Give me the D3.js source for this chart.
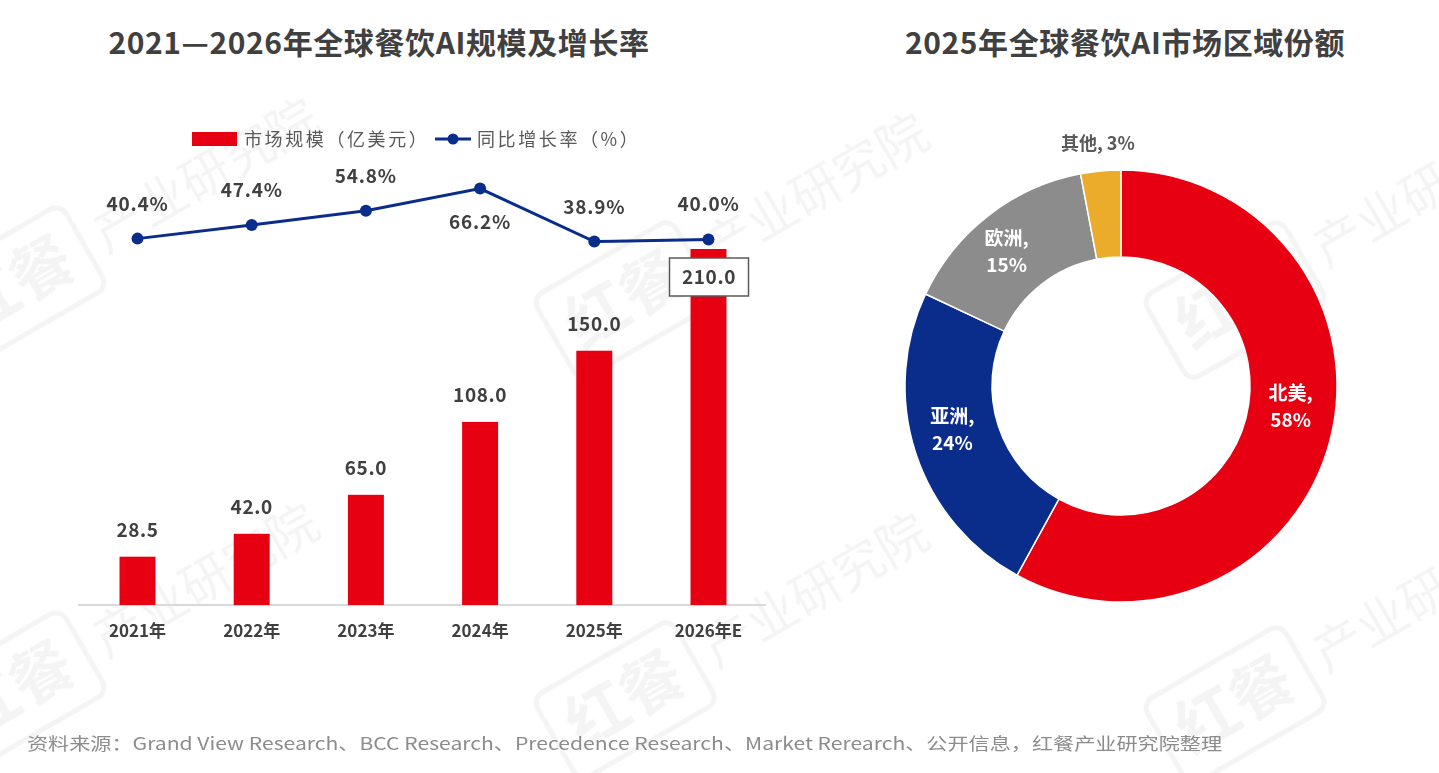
<!DOCTYPE html>
<html>
<head>
<meta charset="utf-8">
<script src="https://cdn.jsdelivr.net/npm/d3@7"></script>
<style>
  body { margin: 0; background: #fff; }
  svg { display: block; font-family: "Noto Sans CJK SC", "Noto Sans", sans-serif; }
</style>
</head>
<body>
<svg id="chart" width="1439" height="773"></svg>
<script>
// data
const years = ['2021年', '2022年', '2023年', '2024年', '2025年', '2026年E']
const marketSize = [28.5, 42.0, 65.0, 108.0, 150.0, 210.0]   // 亿美元
const growthRate = [40.4, 47.4, 54.8, 66.2, 38.9, 40.0]      // %
const rateBelow = [false, false, false, true, false, false]   // 66.2% sits under its dot
const regions = ['北美', '亚洲', '欧洲', '其他']
const regionShare = [58, 24, 15, 3]
const regionColors = ['#e60012', '#0a2d8c', '#8c8c8c', '#ebab2b']

const titleLeft = '2021—2026年全球餐饮AI规模及增长率'
const titleRight = '2025年全球餐饮AI市场区域份额'
const sourceNote = '资料来源：Grand View Research、BCC Research、Precedence Research、Market Rerearch、公开信息，红餐产业研究院整理'

const red = '#e60012'
const navy = '#0a2d8c'
const textDark = '#404040'

let svg = d3.select('#chart')

// faint watermarks behind everything
let marks = [[15, 285], [625, 300], [1235, 300], [15, 690], [625, 700], [1235, 705]]
let wm = svg.append('g').attr('opacity', 0.045)
marks.forEach(m => {
    let g = wm.append('g').attr('transform', `translate(${m[0]},${m[1]}) rotate(-30)`)
    g.append('rect')
        .attr('x', -80).attr('y', -48).attr('width', 160).attr('height', 96)
        .attr('rx', 12).attr('fill', 'none').attr('stroke', '#000').attr('stroke-width', 5)
    g.append('text').attr('x', 0).attr('y', 22).attr('text-anchor', 'middle')
        .style('font-size', '62px').style('font-weight', 'bold').attr('fill', '#000').text('红餐')
    g.append('text').attr('x', 95).attr('y', 18)
        .style('font-size', '50px').attr('fill', '#000').text('产业研究院')
})

// titles
svg.append('text').attr('x', 379).attr('y', 54).attr('text-anchor', 'middle')
    .style('font-size', '30px').style('font-weight', 'bold').style('letter-spacing', '0.6px')
    .attr('fill', textDark)
    .text(titleLeft)
svg.append('text').attr('x', 1125).attr('y', 54).attr('text-anchor', 'middle')
    .style('font-size', '30px').style('font-weight', 'bold').style('letter-spacing', '0.6px')
    .attr('fill', textDark)
    .text(titleRight)

// ---------- left: bars + growth line ----------
let x = d3.scaleBand().domain(years).range([80, 766]).paddingInner(0.685).paddingOuter(0.346)
let yBar = d3.scaleLinear().domain([0, 210]).range([605, 249])
let yRate = d3.scaleLinear().domain([0, 100]).range([317, 123])
let cx = d => x(d) + x.bandwidth() / 2

// x axis: just the baseline and labels
let xAxis = svg.append('g').attr('transform', 'translate(0,605)')
    .call(d3.axisBottom(x).tickSize(0).tickPadding(20))
xAxis.select('.domain').attr('d', 'M78,0H766').attr('stroke', '#d9d9d9').attr('stroke-width', 2)
xAxis.selectAll('text')
    .style('font-size', '17px').style('font-weight', 'bold')
    .style('font-family', '"Noto Sans CJK SC", sans-serif')
    .attr('fill', textDark)

svg.append('g').selectAll('rect')
    .data(marketSize)
    .enter()
    .append('rect')
    .attr('x', (d, i) => x(years[i]))
    .attr('y', d => yBar(d))
    .attr('width', x.bandwidth())
    .attr('height', d => yBar(0) - yBar(d))
    .attr('fill', red)

// bar value labels, the last one is boxed inside the bar
let last = marketSize.length - 1
svg.append('g').selectAll('text')
    .data(marketSize.slice(0, last))
    .enter()
    .append('text')
    .attr('x', (d, i) => cx(years[i]))
    .attr('y', d => yBar(d) - 20)
    .attr('text-anchor', 'middle')
    .style('font-size', '19px').style('font-weight', 'bold').style('letter-spacing', '0.6px')
    .attr('fill', textDark)
    .text(d => d.toFixed(1))

let boxX = cx(years[last])
let boxY = yBar(marketSize[last]) + 28
svg.append('rect').attr('x', boxX - 39).attr('y', boxY - 19).attr('width', 79).attr('height', 38)
    .attr('fill', '#fff').attr('stroke', '#595959').attr('stroke-width', 1.5)
svg.append('text').attr('x', boxX + 0.5).attr('y', boxY + 7).attr('text-anchor', 'middle')
    .style('font-size', '19px').style('font-weight', 'bold').style('letter-spacing', '0.6px')
    .attr('fill', textDark).text(marketSize[last].toFixed(1))

// growth line
let line = d3.line().x((d, i) => cx(years[i])).y(d => yRate(d))
svg.append('path').datum(growthRate)
    .attr('d', line).attr('fill', 'none').attr('stroke', navy).attr('stroke-width', 3)
svg.append('g').selectAll('circle')
    .data(growthRate)
    .enter()
    .append('circle')
    .attr('cx', (d, i) => cx(years[i]))
    .attr('cy', d => yRate(d))
    .attr('r', 6)
    .attr('fill', navy)
svg.append('g').selectAll('text')
    .data(growthRate)
    .enter()
    .append('text')
    .attr('x', (d, i) => cx(years[i]))
    .attr('y', (d, i) => rateBelow[i] ? yRate(d) + 40 : yRate(d) - 28)
    .attr('text-anchor', 'middle')
    .style('font-size', '19px').style('font-weight', 'bold').style('letter-spacing', '0.8px')
    .attr('fill', textDark)
    .text(d => d.toFixed(1) + '%')

// legend
let legend = svg.append('g').style('font-size', '18px').style('letter-spacing', '2.6px')
legend.append('rect').attr('x', 192).attr('y', 132).attr('width', 45).attr('height', 14).attr('fill', red)
legend.append('text').attr('x', 244).attr('y', 146).attr('fill', '#595959').text('市场规模（亿美元）')
legend.append('line').attr('x1', 435).attr('x2', 471).attr('y1', 139).attr('y2', 139)
    .attr('stroke', navy).attr('stroke-width', 3)
legend.append('circle').attr('cx', 453).attr('cy', 139).attr('r', 5.5).attr('fill', navy)
legend.append('text').attr('x', 477).attr('y', 146).attr('fill', '#595959').text('同比增长率（%）')

// ---------- right: donut ----------
let pieCx = 1121, pieCy = 386
let outerR = 216, innerR = 129
let pie = d3.pie().sort(null).value(d => d)
let arcs = pie(regionShare)
let arc = d3.arc().innerRadius(innerR).outerRadius(outerR)
let donut = svg.append('g').attr('transform', `translate(${pieCx},${pieCy})`)
donut.selectAll('path')
    .data(arcs)
    .enter()
    .append('path')
    .attr('d', arc)
    .attr('fill', (d, i) => regionColors[i])
    .attr('stroke', '#fff')
    .attr('stroke-width', 1.5)

let labelArc = d3.arc().innerRadius(172).outerRadius(172)
let outsideArc = d3.arc().innerRadius(246).outerRadius(246)
let labelNudge = [[3, -29], [-5, -16], [-9, -5]]
arcs.forEach((a, i) => {
    if (regionShare[i] < 5) {
        let p = outsideArc.centroid(a)
        donut.append('text').attr('x', p[0]).attr('y', p[1] + 9)
            .attr('text-anchor', 'middle')
            .style('font-size', '18px').style('font-weight', 'bold')
            .attr('fill', '#595959')
            .text(regions[i] + ', ' + regionShare[i] + '%')
    } else {
        let p = labelArc.centroid(a)
        let t = donut.append('text')
            .attr('x', p[0] + labelNudge[i][0]).attr('y', p[1] + labelNudge[i][1])
            .attr('text-anchor', 'middle')
            .style('font-size', '19px').style('font-weight', 'bold')
            .attr('fill', '#fff')
        t.append('tspan').attr('x', p[0] + labelNudge[i][0]).attr('dy', 0).text(regions[i] + ',')
        t.append('tspan').attr('x', p[0] + labelNudge[i][0]).attr('dy', 27).text(regionShare[i] + '%')
    }
})

// source note
svg.append('text').attr('x', 27).attr('y', 750)
    .style('font-size', '17px').attr('fill', '#8c8c8c')
    .attr('textLength', 1195).attr('lengthAdjust', 'spacingAndGlyphs')
    .text(sourceNote)
</script>
</body>
</html>
